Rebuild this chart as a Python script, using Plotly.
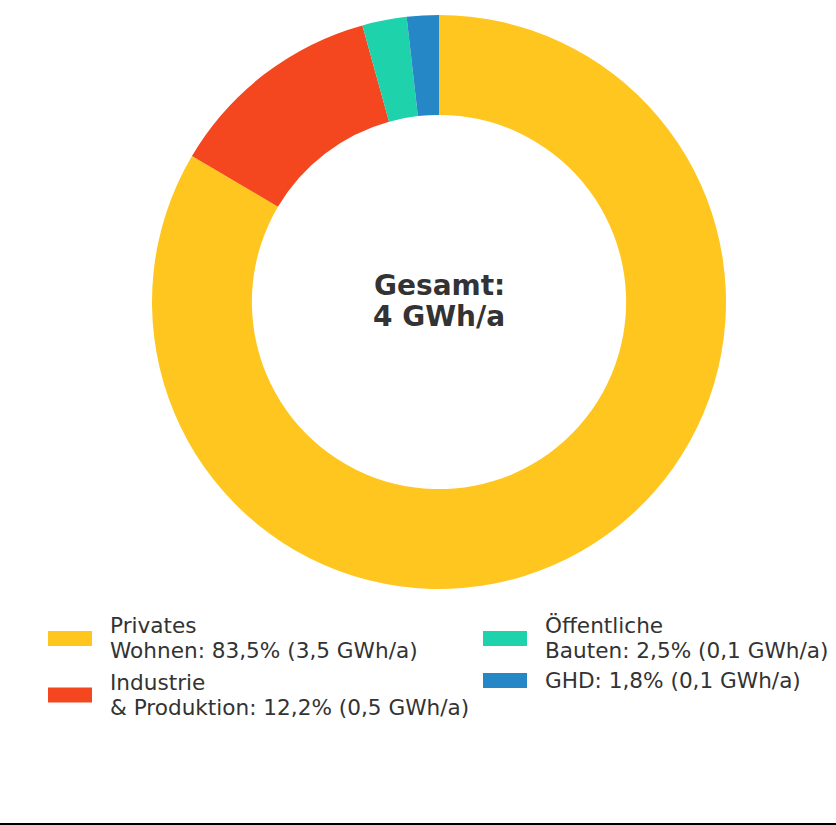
import plotly.graph_objects as go

# ---- data ----
categories = ["Privates\nWohnen", "Industrie\n& Produktion", "Öffentliche\nBauten", "GHD"]
shares_pct = [83.5, 12.2, 2.5, 1.8]
energy_gwh = [3.5, 0.5, 0.1, 0.1]
colors = ["#FFC61F", "#F4471F", "#1ED2AC", "#2687C6"]
total_label = ["Gesamt:", "4 GWh/a"]

W, H = 836, 825
FONT = "DejaVu Sans"
TXT = "#333333"

def px(x):
    return x / W

def py(y):
    return 1 - y / H

def fmt(v):
    return f"{v:.1f}".replace(".", ",")

legend_text = []
for c, p, g in zip(categories, shares_pct, energy_gwh):
    lines = c.split("\n")
    lines[-1] = f"{lines[-1]}: {fmt(p)}% ({fmt(g)} GWh/a)"
    legend_text.append(lines)

cx, cy, R = 439, 302, 287

fig = go.Figure(go.Pie(
    labels=[c.replace("\n", " ") for c in categories],
    values=shares_pct,
    hole=0.652,
    sort=False,
    direction="clockwise",
    rotation=0,
    marker=dict(colors=colors, line=dict(width=0)),
    textinfo="none",
    hoverinfo="label+percent",
    showlegend=False,
    domain=dict(x=[px(cx - R), px(cx + R)], y=[py(cy + R), py(cy - R)]),
))

annotations = [
    dict(text=f"<b>{total_label[0]}</b>", x=px(cx), y=py(285.5), xref="paper", yref="paper",
         showarrow=False, xanchor="center", yanchor="middle",
         font=dict(family=FONT, size=28, color=TXT)),
    dict(text=f"<b>{total_label[1]}</b>", x=px(cx), y=py(316.5), xref="paper", yref="paper",
         showarrow=False, xanchor="center", yanchor="middle",
         font=dict(family=FONT, size=28, color=TXT)),
]
shapes = []

# legend layout: two columns, column-wise filling
col_x = [48, 483]
rect_w, rect_h = 44, 15
item_centers = [638.5, 695, 638.5, 680.5]
line_gap = 25
for i, lines in enumerate(legend_text):
    col = i // 2
    x0 = col_x[col]
    yc = item_centers[i]
    shapes.append(dict(type="rect", xref="paper", yref="paper",
                       x0=px(x0), x1=px(x0 + rect_w),
                       y0=py(yc + rect_h / 2), y1=py(yc - rect_h / 2),
                       fillcolor=colors[i], line=dict(width=0)))
    n = len(lines)
    for j, ln in enumerate(lines):
        ly = yc + (j - (n - 1) / 2) * line_gap - 0.5
        annotations.append(dict(text=ln, x=px(x0 + 60), y=py(ly), xref="paper", yref="paper",
                                showarrow=False, xanchor="left", yanchor="middle",
                                font=dict(family=FONT, size=21.6, color=TXT)))

# bottom border line
shapes.append(dict(type="rect", xref="paper", yref="paper", x0=0, x1=1, y0=0, y1=2 / H,
                   fillcolor="black", line=dict(width=0)))

fig.update_layout(
    width=W, height=H,
    margin=dict(l=0, r=0, t=0, b=0),
    paper_bgcolor="white", plot_bgcolor="white",
    annotations=annotations, shapes=shapes,
    font=dict(family=FONT, color=TXT),
)

fig.write_html("out.html", config={"displayModeBar": False},
               post_script="document.body.style.margin='0';")
